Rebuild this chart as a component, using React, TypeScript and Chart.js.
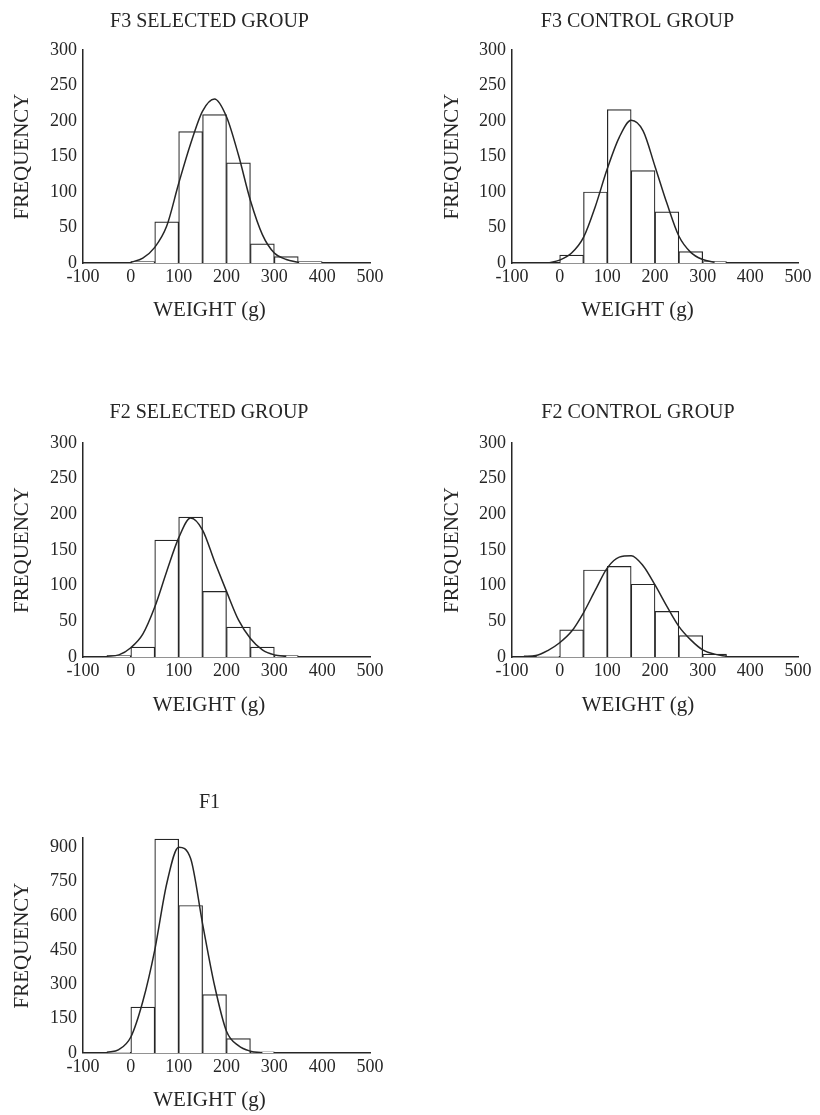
import React, { useEffect, useRef } from "react";
import { Chart, registerables } from "chart.js";

Chart.register(...registerables);

// ---------------- DATA ----------------
const PANEL_TITLES = ["F3 SELECTED GROUP", "F3 CONTROL GROUP", "F2 SELECTED GROUP", "F2 CONTROL GROUP", "F1"];
const X_TITLE = "WEIGHT (g)";
const Y_TITLE = "FREQUENCY";

const X_MIN = -100;
const X_MAX = 500;
const X_STEP = 100;

// histogram bins (50 g wide), given by their centres
const BIN_CENTERS = [-25, 25, 75, 125, 175, 225, 275, 325, 375];
const F3_SELECTED_COUNTS = [0, 2, 58, 185, 209, 141, 27, 9, 2];
const F3_CONTROL_COUNTS = [0, 11, 100, 216, 130, 72, 16, 2, 0];
const F2_SELECTED_COUNTS = [2, 14, 164, 196, 92, 42, 14, 2, 0];
const F2_CONTROL_COUNTS = [1, 38, 122, 127, 102, 64, 30, 4, 0];
const F1_COUNTS = [3, 201, 935, 645, 255, 63, 5, 0, 0];

// fitted curves, every 25 g
const CURVE_X = [-75, -50, -25, 0, 25, 50, 75, 100, 125, 150, 175, 200, 225, 250, 275, 300, 325, 350, 375];
const F3_SELECTED_CURVE = [null, null, null, 1, 7, 22, 52, 112, 168, 214, 231, 206, 152, 88, 40, 14, 5, 1, null];
const F3_CONTROL_CURVE = [null, null, 0, 4, 14, 36, 80, 133, 177, 201, 186, 136, 84, 38, 15, 5, 1, null, null];
const F2_SELECTED_CURVE = [null, 1, 3, 13, 32, 70, 120, 167, 195, 178, 134, 92, 52, 26, 10, 3, 1, null, null];
const F2_CONTROL_CURVE = [1, 2, 9, 20, 36, 62, 94, 125, 140, 142, 128, 101, 71, 43, 24, 10, 4, 1, null];
const F1_CURVE = [null, 3, 15, 70, 225, 450, 740, 900, 850, 565, 295, 95, 32, 8, 1, null, null, null, null];

const Y_MAXES = [300, 300, 300, 300, 940];
const Y_STEPS = [50, 50, 50, 50, 150];

const COUNTS = [F3_SELECTED_COUNTS, F3_CONTROL_COUNTS, F2_SELECTED_COUNTS, F2_CONTROL_COUNTS, F1_COUNTS];
const CURVES = [F3_SELECTED_CURVE, F3_CONTROL_CURVE, F2_SELECTED_CURVE, F2_CONTROL_CURVE, F1_CURVE];

// ---------------- LAYOUT ----------------
const LAYOUT = [
  { plotLeft: 83, plotRight: 370, plotTop: 50, plotBottom: 263, titleCx: 207, titleCy: 22, xlabCx: 212, xlabCy: 310, ylabCx: 22 },
  { plotLeft: 512, plotRight: 798, plotTop: 50, plotBottom: 263, titleCx: 636, titleCy: 22, xlabCx: 639, xlabCy: 310, ylabCx: 452 },
  { plotLeft: 83, plotRight: 370, plotTop: 443, plotBottom: 657, titleCx: 206, titleCy: 413, xlabCx: 212, xlabCy: 705, ylabCx: 22 },
  { plotLeft: 512, plotRight: 798, plotTop: 443, plotBottom: 657, titleCx: 637, titleCy: 413, xlabCx: 639, xlabCy: 705, ylabCx: 452 },
  { plotLeft: 83, plotRight: 370, plotTop: 838, plotBottom: 1053, titleCx: 207, titleCy: 803, xlabCx: 212, xlabCy: 1100, ylabCx: 22 },
];

const FONT = '"Liberation Serif", "Times New Roman", serif';
const INK = "#262626";
const TITLE_SIZE = 20;
const AXIS_TITLE_SIZE = 21;
const TICK_SIZE = 18;
const Y_AXIS_W = 83;
const TOP_BOX = 50;

function geometry(i: number) {
  const L = LAYOUT[i];
  const canvasLeft = L.plotLeft - Y_AXIS_W;
  const canvasTop = L.plotTop - TOP_BOX;
  const center = (L.titleCx + L.xlabCx) / 2 - canvasLeft;
  const W = Math.round(center * 2);
  const rightW = W - (L.plotRight - canvasLeft);
  const tLh = TITLE_SIZE * 1.2;
  const titlePadTop = L.titleCy - canvasTop - tLh / 2;
  const titlePadBottom = TOP_BOX - titlePadTop - tLh;
  const aLh = AXIS_TITLE_SIZE * 1.2;
  const H = Math.round(L.xlabCy + aLh / 2 + 4 - canvasTop);
  const subPadTop = 2;
  const subPadBottom = canvasTop + H - L.xlabCy - aLh / 2;
  const subBoxTop = L.xlabCy - aLh / 2 - subPadTop;
  const xAxisH = subBoxTop - L.plotBottom;
  const yTitlePad = L.ylabCx - canvasLeft - aLh / 2;
  return { canvasLeft, canvasTop, W, H, rightW, titlePadTop, titlePadBottom, subPadTop, subPadBottom, xAxisH, yTitlePad };
}

function buildConfig(i: number): any {
  const g = geometry(i);
  const bars = BIN_CENTERS.map((x, k) => ({ x, y: COUNTS[i][k] })).filter((p) => p.y > 0);
  const curve = CURVE_X.map((x, k) => ({ x, y: CURVES[i][k] })).filter((p) => p.y !== null);
  const yMax = Y_MAXES[i];
  const yStep = Y_STEPS[i];
  return {
    type: "bar",
    data: {
      datasets: [
        {
          type: "line",
          data: curve,
          borderColor: INK,
          borderWidth: 1.5,
          pointRadius: 0,
          fill: false,
          cubicInterpolationMode: "monotone",
          order: 0,
        },
        {
          type: "bar",
          data: bars,
          backgroundColor: "#ffffff",
          borderColor: INK,
          borderWidth: 1.2,
          barPercentage: 1,
          categoryPercentage: 1,
          order: 1,
        },
      ],
    },
    options: {
      responsive: false,
      animation: false,
      events: [],
      layout: { padding: 0 },
      plugins: {
        legend: { display: false },
        tooltip: { enabled: false },
        title: {
          display: true,
          text: PANEL_TITLES[i],
          color: INK,
          font: { family: FONT, size: TITLE_SIZE, weight: "normal" },
          padding: { top: g.titlePadTop, bottom: g.titlePadBottom },
        },
        subtitle: {
          display: true,
          position: "bottom",
          text: X_TITLE,
          color: INK,
          font: { family: FONT, size: AXIS_TITLE_SIZE, weight: "normal" },
          padding: { top: g.subPadTop, bottom: g.subPadBottom },
        },
      },
      scales: {
        x: {
          type: "linear",
          min: X_MIN,
          max: X_MAX,
          offset: false,
          grid: { display: false, drawTicks: false },
          border: { display: true, color: INK, width: 1.5 },
          ticks: {
            stepSize: X_STEP,
            autoSkip: false,
            maxRotation: 0,
            padding: 3,
            color: INK,
            font: { family: FONT, size: TICK_SIZE },
          },
          afterFit: (s: any) => {
            s.height = g.xAxisH;
          },
        },
        y: {
          type: "linear",
          position: "left",
          min: 0,
          max: yMax,
          grid: { display: false, drawTicks: false },
          border: { display: true, color: INK, width: 1.5 },
          ticks: {
            stepSize: yStep,
            includeBounds: false,
            padding: 6,
            color: INK,
            font: { family: FONT, size: TICK_SIZE },
          },
          afterBuildTicks: (s: any) => {
            const t: any[] = [];
            for (let v = 0; v <= yMax; v += yStep) t.push({ value: v });
            s.ticks = t;
          },
          title: {
            display: true,
            text: Y_TITLE,
            color: INK,
            font: { family: FONT, size: AXIS_TITLE_SIZE, weight: "normal" },
            padding: { top: g.yTitlePad, bottom: 0 },
          },
          afterFit: (s: any) => {
            s.width = Y_AXIS_W;
          },
        },
        yr: {
          type: "linear",
          position: "right",
          display: true,
          grid: { display: false, drawTicks: false },
          border: { display: false },
          ticks: { display: false },
          afterFit: (s: any) => {
            s.width = g.rightW;
          },
        },
      },
    },
  };
}

function Panel({ index }: { index: number }) {
  const ref = useRef<HTMLCanvasElement>(null);
  const g = geometry(index);
  useEffect(() => {
    const chart = new Chart(ref.current as HTMLCanvasElement, buildConfig(index));
    return () => chart.destroy();
  }, [index]);
  return (
    <canvas
      ref={ref}
      width={g.W}
      height={g.H}
      style={{ position: "absolute", left: g.canvasLeft, top: g.canvasTop, width: g.W, height: g.H }}
    />
  );
}

export default function App() {
  return (
    <div
      style={{
        position: "absolute",
        left: 0,
        top: 0,
        width: 820,
        height: 1115,
        overflow: "hidden",
        background: "#ffffff",
      }}
    >
      {PANEL_TITLES.map((_, i) => (
        <Panel key={i} index={i} />
      ))}
    </div>
  );
}
